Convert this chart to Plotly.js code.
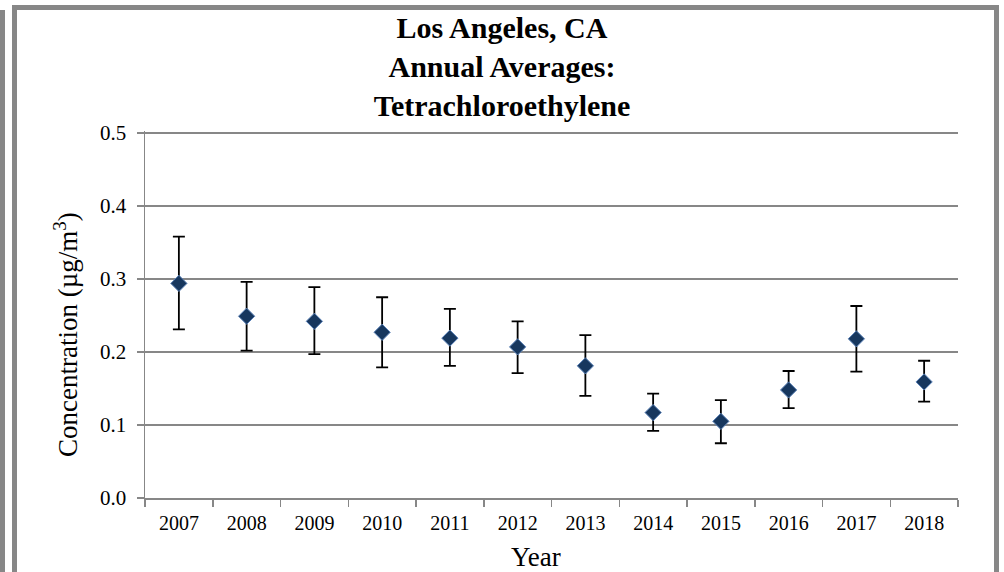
<!DOCTYPE html>
<html>
<head>
<meta charset="utf-8">
<script src="https://cdn.plot.ly/plotly-3.0.1.min.js"></script>
<style>
  html, body { margin: 0; padding: 0; background: #fff; }
  #wrap { position: relative; width: 1004px; height: 572px; overflow: hidden; }
  #chart { position: absolute; left: 0; top: 0; width: 1004px; height: 572px; }
  .bar { position: absolute; background: #878787; pointer-events: none; }
</style>
</head>
<body>
<div id="wrap">
  <div id="chart"></div>
  <div class="bar" style="left:0;top:10px;width:5px;height:562px;"></div>
  <div class="bar" style="left:12px;top:5px;width:5px;height:567px;"></div>
  <div class="bar" style="left:12px;top:5px;width:987px;height:5px;"></div>
  <div class="bar" style="left:994px;top:5px;width:5px;height:567px;"></div>
</div>
<script>
const years = ["2007","2008","2009","2010","2011","2012","2013","2014","2015","2016","2017","2018"];
const means = [0.294, 0.249, 0.242, 0.227, 0.219, 0.207, 0.181, 0.117, 0.105, 0.148, 0.218, 0.159];
const upper = [0.358, 0.296, 0.289, 0.275, 0.259, 0.242, 0.223, 0.143, 0.134, 0.174, 0.263, 0.188];
const lower = [0.231, 0.202, 0.197, 0.179, 0.181, 0.171, 0.140, 0.092, 0.075, 0.123, 0.173, 0.132];

const errPlus = upper.map((u, i) => u - means[i]);
const errMinus = lower.map((l, i) => means[i] - l);

const serif = "'Liberation Serif', 'Times New Roman', serif";
const gray = "#878787";

const trace = {
  type: "scatter",
  mode: "markers",
  x: years,
  y: means,
  marker: { symbol: "diamond", size: 12.5, color: "#17375E", line: { color: "#5B82B8", width: 1 } },
  error_y: { type: "data", symmetric: false, array: errPlus, arrayminus: errMinus,
             color: "#000000", thickness: 1.8, width: 6 },
  hoverinfo: "x+y"
};

const layout = {
  width: 1004, height: 572,
  paper_bgcolor: "#ffffff", plot_bgcolor: "#ffffff",
  margin: { l: 145, r: 46, t: 131, b: 74 },
  showlegend: false,
  font: { family: serif, color: "#000000", size: 20 },
  title: {
    text: "<b>Los Angeles, CA<br>Annual Averages:<br>Tetrachloroethylene</b>",
    font: { family: serif, size: 30, color: "#000000" },
    x: 0.5, xref: "container", xanchor: "center",
    y: 1 - 38 / 572, yref: "container", yanchor: "middle"
  },
  xaxis: {
    type: "category",
    tickson: "boundaries",
    ticks: "outside", ticklen: 7, tickwidth: 1.5, tickcolor: gray,
    ticklabelstandoff: 6,
    showline: true, linecolor: gray, linewidth: 1.5,
    showgrid: false, zeroline: false,
    tickfont: { family: serif, size: 20, color: "#000000" },
    range: [-0.5, 11.5]
  },
  yaxis: {
    range: [0, 0.50274],
    dtick: 0.1, tick0: 0, tickformat: ".1f",
    ticks: "outside", ticklen: 7, tickwidth: 1.5, tickcolor: gray,
    ticklabelstandoff: 6,
    showline: true, linecolor: gray, linewidth: 1.5,
    showgrid: true, gridcolor: gray, gridwidth: 1.5,
    zeroline: false,
    tickfont: { family: serif, size: 21, color: "#000000" }
  },
  annotations: [
    { text: "Concentration (µg/m<sup>3</sup>)", textangle: -90,
      xref: "paper", yref: "paper", x: (66 - 145) / 813, y: (498 - 335) / 367,
      xanchor: "center", yanchor: "middle", showarrow: false,
      font: { family: serif, size: 27, color: "#000000" } },
    { text: "Year",
      xref: "paper", yref: "paper", x: (536 - 145) / 813, y: (498 - 557) / 367,
      xanchor: "center", yanchor: "middle", showarrow: false,
      font: { family: serif, size: 27, color: "#000000" } }
  ]
};

Plotly.newPlot("chart", [trace], layout, { displayModeBar: false, staticPlot: true });
</script>
</body>
</html>
